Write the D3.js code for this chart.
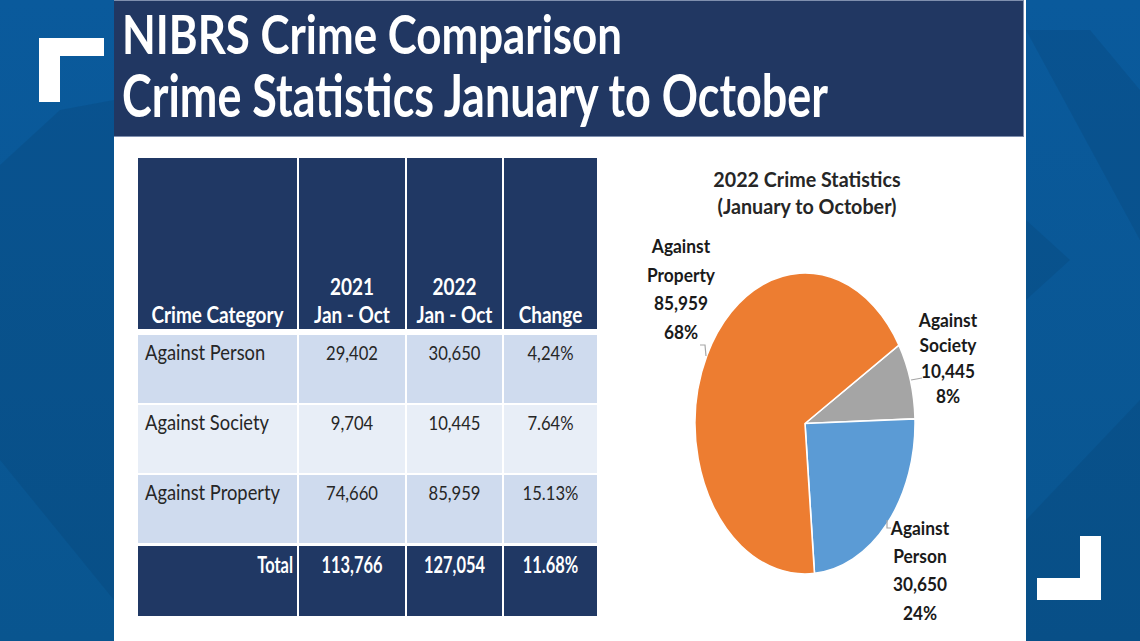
<!DOCTYPE html>
<html>
<head>
<meta charset="utf-8">
<script src="https://cdn.jsdelivr.net/npm/d3@7/dist/d3.min.js"></script>
<style>
  html, body { margin: 0; padding: 0; background: #0a5590; }
  svg { display: block; }
</style>
</head>
<body>
<svg id="chart" width="1140" height="641"></svg>
<script>
// ---------- DATA ----------
const titleLines = ["NIBRS Crime Comparison", "Crime Statistics January to October"];
const headerLines = [["Crime Category"], ["2021", "Jan - Oct"], ["2022", "Jan - Oct"], ["Change"]];
const categories = ["Against Person", "Against Society", "Against Property"];
const values2021 = [29402, 9704, 74660];
const values2022 = [30650, 10445, 85959];
const changeLabels = ["4,24%", "7.64%", "15.13%"];
const totalLabel = "Total";
const totalValues = [113766, 127054];
const totalChange = "11.68%";
const pieTitle = ["2022 Crime Statistics", "(January to October)"];
const pieNames = [["Against", "Person"], ["Against", "Society"], ["Against", "Property"]];
const pieShareLabels = ["24%", "8%", "68%"];
const pieColors = ["#5b9bd5", "#a5a5a5", "#ed7d31"];
const pieDrawOrder = [1, 0, 2]; // clockwise: Society, Person, Property

// ---------- SETUP ----------
const W = 1140, H = 641;
const svg = d3.select("#chart");
const FONT = "Lato, 'Open Sans', 'DejaVu Sans', sans-serif";
const fmt = d3.format(",");

// background
const defs = svg.append("defs");
const lg = defs.append("linearGradient").attr("id", "bg").attr("x1", 0).attr("y1", 0).attr("x2", 0).attr("y2", 1);
lg.append("stop").attr("offset", 0).attr("stop-color", "#0a5a9c");
lg.append("stop").attr("offset", 1).attr("stop-color", "#09558f");
svg.append("rect").attr("width", W).attr("height", H).attr("fill", "url(#bg)");
// subtle diagonal facets
const facets = [
  [[0, 165], [60, 110], [114, 100], [114, 360], [68, 315], [114, 270], [114, 600], [0, 460]],
  [[1026, 30], [1090, 30], [1140, 90], [1140, 240]],
  [[1026, 220], [1070, 260], [1026, 300]],
  [[1026, 520], [1140, 400], [1140, 641], [1026, 641]]
];
svg.selectAll("polygon.facet").data(facets).join("polygon")
  .attr("class", "facet")
  .attr("points", d => d.map(p => p.join(",")).join(" "))
  .attr("fill", "#06406f").attr("opacity", 0.25);

// slide
svg.append("rect").attr("x", 114).attr("y", 0).attr("width", 912).attr("height", H).attr("fill", "#ffffff");
svg.append("rect").attr("x", 114).attr("y", 0).attr("width", 910).attr("height", 137).attr("fill", "#7f8fae");
svg.append("rect").attr("x", 114).attr("y", 1).attr("width", 909).attr("height", 135).attr("fill", "#213762");

// brackets
const bracket = (pts) => svg.append("polygon").attr("points", pts.map(p => p.join(",")).join(" ")).attr("fill", "#ffffff");
bracket([[39, 38], [104, 38], [104, 56], [60, 56], [60, 102], [39, 102]]);
bracket([[1080, 536], [1101, 536], [1101, 600], [1037, 600], [1037, 578], [1080, 578]]);

// helper to add text and compress to a calibrated factor
function addText(parent, str, x, y, opts) {
  const t = parent.append("text")
    .attr("x", x).attr("y", y)
    .attr("font-family", FONT)
    .attr("font-size", opts.size)
    .attr("font-weight", opts.weight || "normal")
    .attr("fill", opts.fill || "#222")
    .attr("text-anchor", opts.anchor || "start")
    .text(str);
  if (opts.k) {
    const w = t.node().getComputedTextLength();
    t.attr("textLength", w * opts.k).attr("lengthAdjust", "spacingAndGlyphs");
  }
  if (opts.width) {
    t.attr("textLength", opts.width).attr("lengthAdjust", "spacingAndGlyphs");
  }
  return t;
}
function calib(str, size, weight, target) {
  const t = svg.append("text").attr("font-family", FONT).attr("font-size", size)
    .attr("font-weight", weight).text(str);
  const w = t.node().getComputedTextLength();
  t.remove();
  return target / w;
}

// ---------- TITLE ----------
addText(svg, titleLines[0], 122, 54, { size: 53, weight: "bold", fill: "#ffffff", width: 500 });
addText(svg, titleLines[1], 122, 117, { size: 59, weight: "bold", fill: "#ffffff", width: 706 });

// ---------- TABLE ----------
const colEdges = [138, 299, 407, 504, 597];
const colGap = 2;
const x = d3.scaleOrdinal().domain([0, 1, 2, 3]).range(colEdges.slice(0, 4));
const colW = i => colEdges[i + 1] - colEdges[i] - (i < 3 ? colGap : 0);
const colC = i => colEdges[i] + colW(i) / 2;

const rowTops = [335, 405, 475];
const rowH = 68;
const rowFills = ["#cfdbee", "#e8eef7", "#cfdbee"];
const table = svg.append("g");

// header
const headerTop = 158, headerBottom = 329;
table.selectAll("rect.h").data(headerLines).join("rect").attr("class", "h")
  .attr("x", (d, i) => x(i)).attr("y", headerTop).attr("width", (d, i) => colW(i))
  .attr("height", headerBottom - headerTop).attr("fill", "#203864");

const kHead = calib("Crime Category", 22, "bold", 132);
headerLines.forEach((lines, i) => {
  lines.forEach((s, j) => {
    const y = 323 - (lines.length - 1 - j) * 28;
    addText(table, s, colC(i), y, { size: 22, weight: "bold", fill: "#ffffff", anchor: "middle", k: kHead });
  });
});

// body rows
const kBody = calib("Against Property", 21, "normal", 135);
const kNum = calib("74,660", 20, "normal", 52);
categories.forEach((cat, r) => {
  const top = rowTops[r];
  for (let i = 0; i < 4; i++) {
    table.append("rect").attr("x", x(i)).attr("y", top).attr("width", colW(i)).attr("height", rowH)
      .attr("fill", rowFills[r]);
  }
  const by = top + 25;
  addText(table, cat, 145, by, { size: 21, fill: "#262626", k: kBody });
  addText(table, fmt(values2021[r]), colC(1), by, { size: 20, fill: "#262626", anchor: "middle", k: kNum });
  addText(table, fmt(values2022[r]), colC(2), by, { size: 20, fill: "#262626", anchor: "middle", k: kNum });
  addText(table, changeLabels[r], colC(3), by, { size: 20, fill: "#262626", anchor: "middle", k: kNum });
});

// total row
const totTop = 546, totBottom = 616;
for (let i = 0; i < 4; i++) {
  table.append("rect").attr("x", x(i)).attr("y", totTop).attr("width", colW(i)).attr("height", totBottom - totTop)
    .attr("fill", "#203864");
}
const kTot = calib("127,054", 22, "bold", 61);
addText(table, totalLabel, 293, 573, { size: 22, weight: "bold", fill: "#ffffff", anchor: "end", k: kTot });
addText(table, fmt(totalValues[0]), colC(1), 573, { size: 22, weight: "bold", fill: "#ffffff", anchor: "middle", k: kTot });
addText(table, fmt(totalValues[1]), colC(2), 573, { size: 22, weight: "bold", fill: "#ffffff", anchor: "middle", k: kTot });
addText(table, totalChange, colC(3), 573, { size: 22, weight: "bold", fill: "#ffffff", anchor: "middle", k: kTot });

// ---------- PIE ----------
const kPieT = calib("(January to October)", 20, "bold", 179);
addText(svg, pieTitle[0], 807, 187, { size: 20, weight: "bold", fill: "#262626", anchor: "middle", k: kPieT });
addText(svg, pieTitle[1], 807, 214, { size: 20, weight: "bold", fill: "#262626", anchor: "middle", k: kPieT });

const cx = 805, cy = 423.5, rx = 110, ry = 150.5;
const ordered = pieDrawOrder.map(i => ({ idx: i, value: values2022[i] }));
const total2022 = d3.sum(values2022);
const startDeg = 58.6;
const pie = d3.pie().sort(null).value(d => d.value)
  .startAngle(startDeg * Math.PI / 180).endAngle((startDeg + 360) * Math.PI / 180);
const arcs = pie(ordered);
const arc = d3.arc().innerRadius(0).outerRadius(1);
const pg = svg.append("g").attr("transform", `translate(${cx},${cy}) scale(${rx},${ry})`);
pg.selectAll("path").data(arcs).join("path")
  .attr("d", arc)
  .attr("fill", d => pieColors[d.data.idx])
  .attr("stroke", "#ffffff").attr("stroke-width", 1.6)
  .attr("vector-effect", "non-scaling-stroke");

// labels
const labelLayout = {
  0: { x: 920, y: 535, dy: 28.2 },
  1: { x: 948, y: 327, dy: 25.3 },
  2: { x: 681, y: 253, dy: 28.5 }
};
const kPieL = calib("Property", 19, "bold", 68);
const kPieN = calib("85,959", 19, "bold", 54);
categories.forEach((c, i) => {
  const L = labelLayout[i];
  const lines = [pieNames[i][0], pieNames[i][1], fmt(values2022[i]), pieShareLabels[i]];
  lines.forEach((s, j) => {
    addText(svg, s, L.x, L.y + j * L.dy, { size: 19, weight: "bold", fill: "#1a1a1a", anchor: "middle", k: j < 2 ? kPieL : kPieN });
  });
});
// leader lines
const leaders = [
  [[887, 520], [887, 528], [891, 528]],
  [[911, 380], [922, 378]],
  [[700, 345], [705, 345], [706, 356]]
];
svg.selectAll("polyline.leader").data(leaders).join("polyline").attr("class", "leader")
  .attr("points", d => d.map(p => p.join(",")).join(" "))
  .attr("fill", "none").attr("stroke", "#a6a6a6").attr("stroke-width", 1.2);
</script>
</body>
</html>
